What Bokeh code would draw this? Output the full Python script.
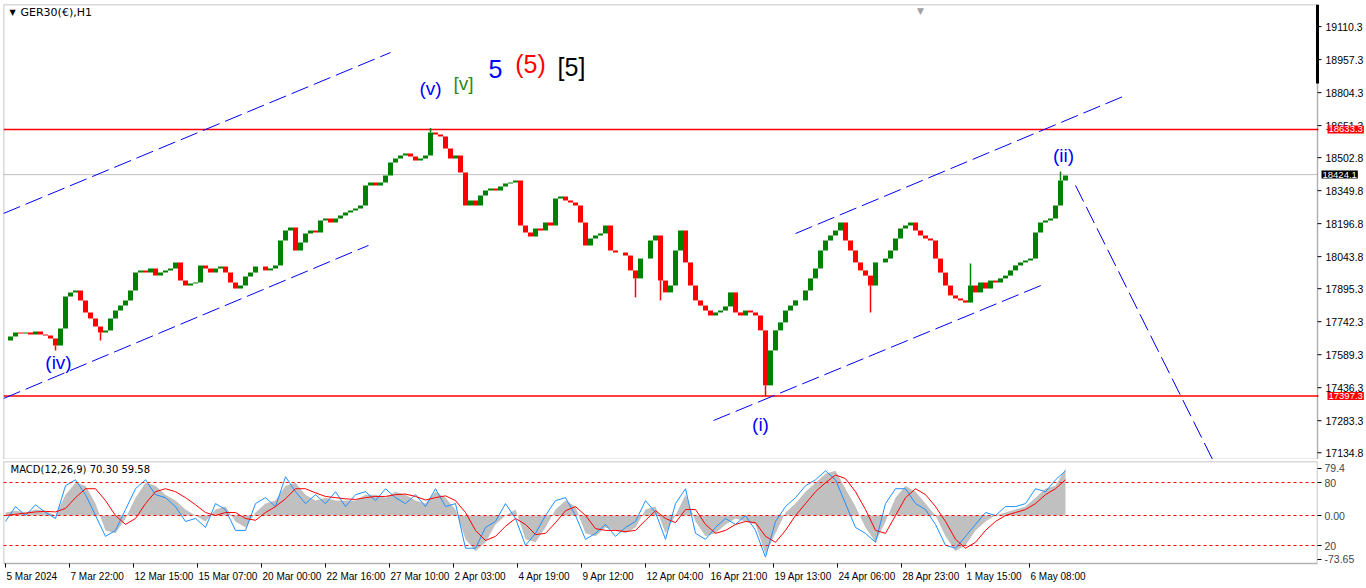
import numpy as np
from bokeh.plotting import figure
from bokeh.models import Range1d, FixedTicker, Label, ColumnDataSource, BoxAnnotation, Span
from bokeh.core.properties import value
from bokeh.layouts import column
from bokeh.embed import file_html
from bokeh.resources import INLINE

# ---------------- data ----------------
SAMPLE_STEP = 5  # hourly bars per sample

closes = [
    17655, 17674, 17692, 17688, 17692, 17683, 17697, 17683, 17678, 17664,
    17632, 17711, 17859, 17878, 17887, 17841, 17785, 17757, 17720, 17692,
    17702, 17757, 17794, 17817, 17841, 17887, 17970, 17980, 17970, 17989,
    17956, 17970, 17980, 17989, 18017, 17933, 17910, 17919, 17924, 18003,
    17989, 17970, 17989, 17998, 17970, 17924, 17896, 17910, 17952, 17970,
    17998, 17998, 17980, 17989, 18003, 18119, 18165, 18179, 18072, 18109,
    18151, 18165, 18156, 18211, 18221, 18202, 18221, 18235, 18249, 18258,
    18267, 18281, 18374, 18388, 18374, 18388, 18420, 18480, 18499, 18513,
    18522, 18508, 18490, 18499, 18513, 18619, 18610, 18601, 18545, 18499,
    18513, 18434, 18281, 18304, 18281, 18327, 18351, 18360, 18351, 18369,
    18383, 18388, 18397, 18188, 18156, 18137, 18174, 18165, 18202, 18188,
    18313, 18323, 18304, 18295, 18281, 18202, 18096, 18128, 18142, 18151,
    18188, 18072, 18063, 18063, 18049, 17980, 17943, 18035, 18035, 18119,
    18142, 17933, 17878, 17910, 18072, 18165, 18017, 17910, 17841, 17817,
    17794, 17771, 17785, 17794, 17813, 17878, 17785, 17771, 17794, 17785,
    17771, 17702, 17447, 17609, 17702, 17739, 17794, 17817, 17841, 17841,
    17887, 17943, 17989, 18072, 18119, 18142, 18165, 18202, 18119, 18072,
    18017, 17980, 17956, 17910, 18017, 18017, 18035, 18072, 18128, 18174,
    18188, 18202, 18165, 18142, 18128, 18119, 18035, 17970, 17910, 17864,
    17850, 17841, 17831, 17910, 17878, 17924, 17896, 17933, 17924, 17943,
    17956, 17980, 18003, 18017, 18026, 18035, 18156, 18202, 18211, 18221,
    18281, 18397, 18420,
]

# bars whose high/low reaches beyond the open/close body
wick_bars = [50, 95, 425, 630, 655, 760, 865, 965, 1055]
wick_prices = [17609, 17655, 18640, 17855, 17841, 17397, 17785, 18012, 18439]

MACD_STEP = 10
macd_main = [
    5, 8, 5, 10, 8, 0, 35, 55, 50, 20,
    -25, -30, -5, 30, 55, 50, 35, 25, 10, 0,
    -10, 10, 15, -10, -20, 5, 20, 25, 50, 55,
    35, 25, 30, 25, 25, 25, 35, 35, 30, 40,
    35, 25, 20, 40, 30, 10, -40, -60, -45, -15,
    0, 10, -40, -45, -20, 10, 25, 15, -30, -35,
    -20, -25, -30, -20, 10, 15, -30, 0, 35, -10,
    -35, -30, -15, -5, -10, -15, -65, -30, 5, 20,
    40, 55, 70, 75, 45, 15, -20, -45, -10, 30,
    50, 40, 20, 0, -35, -60, -50, -25, -10, 0,
    5, 10, 15, 30, 45, 50, 79,
]
macd_signal = [
    0, 2, 4, 6, 7, 6, 12, 30, 45, 45,
    25, 0, -15, -5, 20, 40, 45, 40, 30, 18,
    5, 0, 5, 5, -5, -8, 5, 15, 28, 45,
    45, 38, 32, 30, 28, 27, 30, 32, 32, 35,
    36, 32, 26, 30, 33, 25, 5, -25, -42, -35,
    -18, -5, -15, -32, -30, -12, 8, 15, 0, -22,
    -25, -25, -27, -25, -8, 8, -5, -12, 10, 10,
    -15, -30, -25, -15, -10, -12, -35, -45, -25, 0,
    20, 40, 55, 68, 62, 40, 10, -25, -30, 0,
    30, 45, 35, 15, -10, -40, -55, -45, -25, -10,
    0, 5, 10, 20, 35, 45, 60,
]
macd_fast = [
    -10, 15, 0, 18, 5, -5, 50, 60, 35, 0,
    -35, -25, 10, 45, 60, 35, 30, 15, -10, -5,
    -20, 20, 10, -25, -25, 20, 30, 15, 65, 40,
    20, 35, 20, 40, 15, 35, 40, 25, 45, 30,
    20, 35, 15, 45, 15, 20, -55, -55, -20, -10,
    20, -5, -50, -30, 0, 25, 30, 0, -40, -30,
    -15, -35, -20, -10, 25, 5, -40, 20, 45, -30,
    -40, -20, -5, -15, 0, -25, -70, -10, 15, 30,
    50, 60, 75, 60, 20, -20, -30, -45, 20, 45,
    45, 20, 10, -15, -50, -55, -35, -15, 5, 0,
    15, 15, 20, 45, 40, 60, 75,
]

price_ticks = [19110.3, 18957.3, 18804.3, 18651.3, 18502.8, 18349.8, 18196.8, 18043.8,
               17895.3, 17742.3, 17589.3, 17436.3, 17283.3, 17134.8]
x_tick_labels = ["5 Mar 2024", "7 Mar 22:00", "12 Mar 15:00", "15 Mar 07:00",
                 "20 Mar 00:00", "22 Mar 16:00", "27 Mar 10:00", "2 Apr 03:00",
                 "4 Apr 19:00", "9 Apr 12:00", "12 Apr 04:00", "16 Apr 21:00",
                 "19 Apr 13:00", "24 Apr 06:00", "28 Apr 23:00", "1 May 15:00",
                 "6 May 08:00"]
X_TICK_EVERY = 64

level_high = 18633.3
level_low = 17397.3
bid_price = 18424.1

# trend channel lines: (bar0, price0, bar1, price1)
trend_lines = [
    (-2, 18244, 385, 18990),
    (-2, 17386, 363, 18096),
    (790, 18151, 1120, 18791),
    (708, 17284, 1038, 17915),
    (1070, 18374, 1215, 17030),
]

# wave labels: text, bar, price, color, size
wave_labels = [
    ("(iv)", 53, 17553, "#0000ff", "19px"),
    ("(v)", 425, 18823, "#0000ff", "19px"),
    ("[v]", 458, 18846, "#2a8a1a", "19px"),
    ("5", 490, 18916, "#0000ff", "25px"),
    ("(5)", 525, 18939, "#ff0000", "25px"),
    ("[5]", 566, 18925, "#000000", "25px"),
    ("(i)", 755, 17266, "#0000ff", "19px"),
    ("(ii)", 1058, 18513, "#0000ff", "19px"),
]

macd_levels = [55.4, 0, -50.4]
macd_tick_labels = {79.4: "79.4", 55.4: "80", 0: "0.00", -50.4: "20", -73.65: "-73.65"}

# ---------------- build ----------------
FONT = "Liberation Sans"
UP, DOWN = "#008000", "#ff0000"
CHART_END = 1312          # last bar slot inside the chart frame
Y_LO, Y_HI = 17103.4, 19212.8

closes_a = np.array(closes, dtype=float)
bars = np.arange(len(closes_a)) * SAMPLE_STEP
opens_a = np.concatenate([[closes_a[0]], closes_a[:-1]])
colors = [UP if c >= o else DOWN for o, c in zip(opens_a, closes_a)]
src = ColumnDataSource(dict(x=bars, top=np.maximum(opens_a, closes_a),
                            bottom=np.minimum(opens_a, closes_a), color=colors))

p = figure(frame_width=1362, frame_height=455, min_border_left=3, min_border_right=0,
           min_border_top=4, min_border_bottom=0, x_range=Range1d(-2, 1360),
           y_range=Range1d(Y_LO, Y_HI), x_axis_location=None, y_axis_location=None,
           toolbar_location=None, output_backend="svg", background_fill_color="white")
p.grid.visible = False
p.outline_line_color = None

# chart frame (price area only; price scale drawn to its right)
p.add_layout(BoxAnnotation(left=-2, right=CHART_END, bottom=Y_LO, top=Y_HI,
                           fill_color=None, line_color="black", line_width=1.5))
p.segment(x0=[CHART_END], y0=[Y_HI], x1=[CHART_END], y1=[18847], line_color="black", line_width=3)

# horizontal levels
p.segment(x0=[-2], y0=[bid_price], x1=[CHART_END], y1=[bid_price], line_color="#c0c0c0", line_width=1)
for lv in (level_high, level_low):
    p.add_layout(Span(location=lv, dimension="width", line_color="#ff0000", line_width=1.5,
                      level="underlay"))

# price bars
p.vbar(x="x", width=5, top="top", bottom="bottom", fill_color="color",
       line_color=None, source=src)
wick_from = [closes_a[b // SAMPLE_STEP] for b in wick_bars]
wick_col = [colors[b // SAMPLE_STEP] for b in wick_bars]
p.segment(x0=wick_bars, y0=wick_from, x1=wick_bars, y1=wick_prices,
          line_color=wick_col, line_width=1.5)

# channel lines
for b0, p0, b1, p1 in trend_lines:
    p.line([b0, b1], [p0, p1], line_color="#0000ff", line_width=1, line_dash="18 6")

# wave labels
for txt, b, pr, col, size in wave_labels:
    p.add_layout(Label(x=b, y=pr, text=txt, text_color=col, text_font=FONT,
                       text_font_size=size, text_align="center", text_baseline="middle"))

# price scale (white backing hides the level lines to the right of the chart)
p.add_layout(BoxAnnotation(left=CHART_END + 1, fill_color="white", fill_alpha=1,
                           line_color=None, level="underlay"))
n = len(price_ticks)
p.segment(x0=[CHART_END] * n, y0=price_ticks, x1=[CHART_END + 4] * n, y1=price_ticks,
          line_color="black", line_width=1)
p.text(x=[CHART_END + 8] * n, y=price_ticks, text=[f"{t:.1f}" for t in price_ticks],
       text_font=value(FONT), text_font_size="10.5px", text_color="black",
       text_baseline="middle", text_align="left")
for pr, bg, bx in [(level_high, "#ff0000", CHART_END + 10), (bid_price, "#000000", CHART_END + 4),
                   (level_low, "#ff0000", CHART_END + 10)]:
    p.add_layout(Label(x=bx, y=pr, text=f"{pr:.1f}", text_font=FONT,
                       text_font_size="9.5px", text_color="white", text_baseline="middle",
                       background_fill_color=bg, padding=1))

# title
p.add_layout(Label(x=6, y=447, x_units="screen", y_units="screen", text="\u25bc",
                   text_font="DejaVu Sans", text_font_size="8px", text_color="black",
                   text_baseline="middle"))
p.add_layout(Label(x=17, y=447, x_units="screen", y_units="screen", text="GER30(\u20ac),H1",
                   text_font="DejaVu Sans", text_font_size="11px", text_color="black",
                   text_baseline="middle"))
p.add_layout(Label(x=917, y=449, x_units="screen", y_units="screen", text="\u25bc",
                   text_font="DejaVu Sans", text_font_size="9px", text_color="#a0a0a0",
                   text_baseline="middle", text_align="center"))

# ---------------- MACD panel (frame also holds the time scale below it) ----------------
M_HI, M_LO = 90.7, -80.6          # panel value range
PANEL_PX = 102
UNIT = (M_HI - M_LO) / PANEL_PX   # value per pixel
SCALE_PX = 24
M_BOTTOM = M_LO - SCALE_PX * UNIT

mb = np.arange(len(macd_main)) * MACD_STEP
q = figure(frame_width=1314, frame_height=PANEL_PX + SCALE_PX, min_border_left=3,
           min_border_right=48, min_border_top=2, min_border_bottom=0,
           x_range=Range1d(-2, CHART_END), y_range=Range1d(M_BOTTOM, M_HI),
           x_axis_location=None, y_axis_location="right",
           toolbar_location=None, output_backend="svg")
q.grid.visible = False
q.outline_line_color = None
q.varea(x=mb, y1=np.zeros(len(mb)), y2=macd_main, fill_color="#c0c0c0")
for lv in macd_levels:
    q.add_layout(Span(location=lv, dimension="width", line_color="#ff0000",
                      line_width=1, line_dash="3 3"))
q.line(mb, macd_fast, line_color="#1e90ff", line_width=1)
q.line(mb, macd_signal, line_color="#ff0000", line_width=1)
q.add_layout(BoxAnnotation(left=-2, right=CHART_END, bottom=M_LO, top=M_HI,
                           fill_color=None, line_color="black", line_width=1.5))

qy = q.yaxis[0]
qy.ticker = FixedTicker(ticks=list(macd_tick_labels.keys()))
qy.major_label_overrides = macd_tick_labels
qy.major_label_text_font = FONT
qy.major_label_text_font_size = "10.5px"
qy.major_tick_in = 0
qy.major_tick_out = 4
qy.minor_tick_line_color = None
qy.axis_line_color = None
qy.major_label_standoff = 3

# time scale
xt = [i * X_TICK_EVERY for i in range(len(x_tick_labels))]
m = len(xt)
q.segment(x0=xt, y0=[M_LO] * m, x1=xt, y1=[M_LO - 4 * UNIT] * m, line_color="black", line_width=1)
q.text(x=[t + 1 for t in xt], y=[M_LO - 13 * UNIT] * m, text=x_tick_labels,
       text_font=value(FONT), text_font_size="10px", text_color="black",
       text_align="left", text_baseline="middle")

q.add_layout(Label(x=7, y=PANEL_PX + SCALE_PX - 8, x_units="screen", y_units="screen",
                   text="MACD(12,26,9) 70.30 59.58", text_font="DejaVu Sans",
                   text_font_size="10px", text_color="black", text_baseline="middle"))

layout = column(p, q, spacing=0)
open("out.html", "w").write(file_html(layout, INLINE))
